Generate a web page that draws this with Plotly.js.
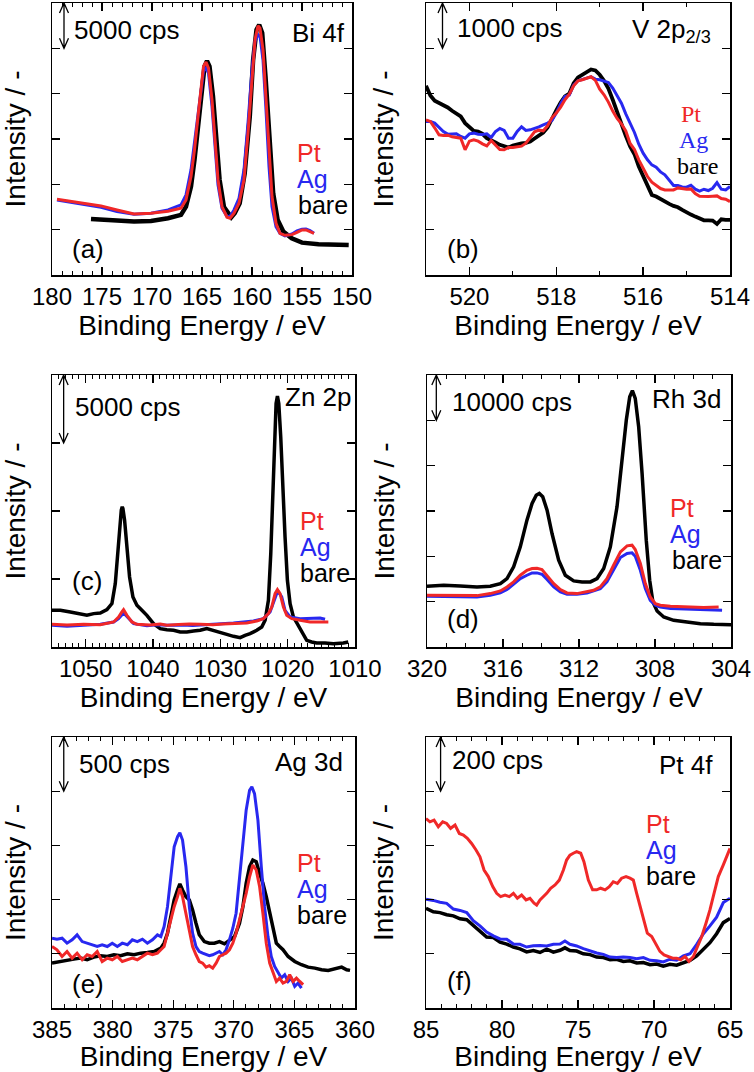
<!DOCTYPE html>
<html><head><meta charset="utf-8">
<script src="https://cdn.plot.ly/plotly-3.0.1.min.js"></script>
<style>html,body{margin:0;padding:0;background:#fff}#chart{width:754px;height:1072px}</style>
</head><body><div id="chart"></div>
<script>
// ---------- (a) Bi 4f ----------
const biE_bare = [176.1,175.1,173.5,171.8,170.1,168.4,167.1,166.6,166.1,165.75,165.4,165.1,164.75,164.5,164.25,163.9,163.6,163.24,162.8,162.23,162.07,161.73,161.23,160.73,160.22,159.89,159.55,159.28,158.98,158.65,158.28,157.88,157.44,156.87,156.03,155.0,153.35,150.33];
const bi_bare = [6180,6150,6000,5900,5950,6260,6630,7550,9750,12700,16400,20400,23000,23600,23000,19700,14900,10500,7500,6450,6370,6800,7900,11200,17500,23700,27050,27600,26700,21900,14900,9000,6100,4800,4050,3570,3390,3310];
const biE_metal = [179.5,178.5,177.5,176.8,175.1,173.5,172.5,171.8,170.1,169,168.4,167.1,166.6,166.1,165.75,165.4,165.08,164.85,164.6,164.35,164.0,163.7,163.4,163.0,162.5,162.2,161.8,161.3,160.8,160.4,160.0,159.7,159.4,159.2,158.9,158.6,158.3,158.0,157.6,157.2,156.7,156.0,155.5,155.0,154.6,154.2,153.8];
const bi_pt = [8356,8172,8061,7914,7620,7178,6884,6736,6810,6920,7030,7362,8282,10859,13804,17485,21166,23006,23485,22822,19325,14908,10491,7546,6368,6258,6810,7914,10491,15644,21902,25951,27497,27239,24847,19325,13436,8650,5706,4601,4380,4454,4712,4969,4969,4785,4601];
const bi_ag = [8282,8098,7914,7730,7473,6994,6810,6700,6810,7031,7178,7730,8834,11595,14540,17853,20798,22454,22822,22270,18589,14172,9939,7362,6442,6442,7178,8466,11595,16749,22638,25767,26503,26319,23742,18221,11963,7546,5337,4601,4307,4527,4859,5043,5080,4896,4601];

// ---------- (b) V 2p ----------
const vE = [521.0,520.9,520.8,520.7,520.6,520.5,520.4,520.3,520.2,520.1,520.0,519.9,519.8,519.7,519.6,519.5,519.4,519.3,519.2,519.1,519.0,518.9,518.8,518.7,518.6,518.5,518.4,518.3,518.2,518.1,518.0,517.9,517.8,517.7,517.6,517.5,517.4,517.3,517.2,517.1,517.0,516.9,516.8,516.7,516.6,516.5,516.4,516.3,516.2,516.1,516.0,515.9,515.8,515.7,515.6,515.5,515.4,515.3,515.2,515.1,515.0,514.9,514.8,514.7,514.6,514.5,514.4,514.3,514.2,514.1,514.0];
const v_bare = [4174,3961,3843,3799,3747,3696,3622,3548,3497,3350,3254,3180,3166,3114,3018,2960,2923,2871,2842,2812,2856,2886,2901,2915,2945,3011,3077,3144,3254,3423,3629,3806,3939,4005,4233,4358,4417,4491,4535,4513,4417,4285,4115,3865,3585,3313,3070,2834,2665,2393,2172,1951,1767,1730,1671,1634,1568,1524,1494,1436,1377,1333,1288,1237,1207,1207,1200,1126,1229,1215,1215];
const v_pt = [3423,3387,3247,3092,3077,3085,3048,3026,3018,2761,2952,2982,2952,2893,2849,2967,2864,2768,2761,2812,2812,2820,2842,2908,3026,3158,3195,3180,3291,3468,3571,3703,3865,3990,4174,4285,4307,4344,4373,4292,4101,3975,3814,3615,3453,3335,3180,2901,2768,2540,2356,2172,2047,1973,1907,1877,1877,1877,1921,1907,1892,1899,1796,1737,1730,1730,1737,1745,1686,1671,1620];
const v_ag = [3387,3387,3350,3261,3166,3107,3107,3114,3055,3018,3114,3129,3107,3099,3114,3033,3166,3232,3188,3018,3018,3166,3269,3188,3202,3232,3269,3313,3350,3409,3571,3777,3939,3968,4189,4285,4321,4344,4373,4321,4307,4277,4248,4123,3961,3791,3556,3350,3144,2886,2687,2540,2429,2378,2275,2209,2083,1973,1973,1944,1936,1980,1892,1848,1892,1863,1914,2039,1892,1877,1951];

// ---------- (c) Zn 2p ----------
const znE_bare = [1055.0,1053.76,1052.28,1050.80,1049.81,1048.82,1047.83,1046.84,1046.10,1045.60,1045.26,1044.96,1044.71,1044.57,1044.47,1044.22,1043.87,1043.48,1042.98,1042.39,1041.65,1040.91,1039.92,1038.93,1037.94,1036.95,1035.96,1034.97,1033.98,1032.99,1032.01,1031.02,1030.03,1029.04,1028.05,1027.06,1026.32,1025.58,1024.59,1023.85,1023.35,1022.86,1022.51,1022.21,1021.97,1021.72,1021.52,1021.32,1021.03,1020.73,1020.39,1020.04,1019.64,1019.15,1018.41,1017.67,1017.17,1016.43,1015.69,1014.45,1013.21,1011.73,1011.0];
const zn_bare = [2699,2699,2577,2454,2331,2454,2503,2748,3190,4663,6871,8834,10061,10307,10184,9325,7362,5153,3681,3068,2699,2331,1718,1350,1276,1227,1104,1104,1178,1227,1350,1227,1104,933,785,687,859,982,1227,1472,1963,3436,6871,11779,15460,17914,18454,17914,15460,11779,8098,4908,3190,2209,1595,859,491,368,294,294,245,294,368];
const znE_pt = [1055.0,1052.77,1050.30,1047.83,1045.85,1045.11,1044.62,1044.37,1043.87,1043.13,1042.39,1040.5,1038.9,1037.94,1036.2,1034.6,1032.99,1031.1,1029.6,1028.05,1026.07,1024.59,1023.60,1022.86,1022.36,1021.87,1021.52,1021.13,1020.63,1020.14,1019.40,1018.16,1016.68,1015.19,1013.96];
const zn_pt = [1669,1620,1669,1644,1841,2209,2577,2748,2331,1841,1669,1610,1690,1595,1650,1700,1669,1640,1700,1718,1767,1914,2086,2454,2945,3926,4221,3926,2945,2331,2086,1963,1841,1841,1841];
const znE_ag = [1055.0,1052.77,1050.30,1047.83,1045.85,1045.11,1044.37,1043.63,1042.88,1040.9,1039.4,1037.94,1035.7,1034.1,1032.99,1030.6,1028.05,1025.08,1023.60,1022.61,1022.12,1021.62,1021.37,1020.88,1020.39,1019.64,1018.16,1016.68,1015.19,1014.45];
const zn_ag = [1595,1521,1595,1669,1841,2086,2503,2086,1718,1570,1640,1595,1620,1580,1620,1660,1767,1914,2086,2577,3190,3926,4049,3681,2699,2209,2086,2086,2135,2037];

// ---------- (d) Rh 3d ----------
const rhE_bare = [320.0,319.12,318.25,317.37,316.67,316.14,315.79,315.44,315.09,314.74,314.47,314.25,314.09,313.91,313.68,313.42,313.07,312.72,312.28,311.84,311.40,311.05,310.70,310.35,310.0,309.74,309.51,309.33,309.19,309.04,308.86,308.68,308.46,308.28,308.11,307.89,307.54,307.02,306.32,305.61,304.91,304.0];
const rh_bare = [13399,13620,13472,13252,13399,13988,15092,17669,22086,27976,31657,33497,33865,33129,30184,25031,19141,15828,14577,14356,14356,15092,17301,22086,30920,41227,50062,55215,56540,54847,48589,38282,23558,14724,9939,7951,6626,5890,5522,5153,5006,4933];
const rhE_pt = [320.0,319.12,318.25,317.37,316.67,316.14,315.79,315.44,315.09,314.74,314.47,314.21,313.95,313.68,313.33,312.98,312.63,312.11,311.58,311.23,310.88,310.53,310.18,309.82,309.47,309.21,309.04,308.77,308.51,308.25,307.98,307.72,307.19,306.32,305.44,304.65];
const rh_pt = [11411,11337,11337,11337,11779,12368,13252,14356,15828,16933,17301,17374,17080,15828,13988,12663,11926,11779,12147,12515,13252,15092,18037,20982,22307,22454,21497,18405,13988,11043,9571,9203,8982,8834,8687,8834];
const rhE_ag = [320.0,319.12,318.25,317.37,316.67,316.14,315.79,315.44,315.09,314.74,314.47,314.21,313.95,313.68,313.33,312.98,312.63,312.11,311.58,311.23,310.88,310.53,310.18,309.82,309.47,309.21,309.04,308.77,308.51,308.25,307.98,307.72,307.19,306.32,305.44,304.47];
const rh_ag = [11190,11190,11190,11043,11411,11926,12663,13841,15092,15828,16344,16344,16049,14871,13252,12147,11632,11632,11926,12368,12884,14356,17080,19730,20614,20761,20025,16933,12884,10307,9203,8834,8466,8319,8245,8098];

// ---------- (e) Ag 3d ----------
const agE_bare = [385.0,384.31,383.76,383.20,382.65,382.10,381.55,380.99,380.44,379.89,379.34,378.78,378.23,377.68,377.13,376.57,376.02,375.75,375.47,375.19,374.92,374.64,374.45,374.23,373.95,373.67,373.40,373.12,372.85,372.43,372.02,371.60,371.19,370.77,370.36,369.94,369.53,369.25,368.98,368.70,368.43,368.15,367.87,367.60,367.32,367.04,366.77,366.49,366.22,365.94,365.52,364.97,364.42,363.87,363.31,362.76,362.21,361.66,361.10,360.69,360.41];
const ag_bare = [414,429,445,451,460,445,469,482,475,491,482,500,491,506,512,521,552,598,690,843,997,1089,1144,1089,1027,997,905,782,675,613,598,598,613,592,629,659,782,935,1150,1303,1365,1349,1242,1150,1027,874,736,598,567,537,475,429,399,377,368,353,347,359,377,353,347];
const agE_pt = [385.0,384.59,384.17,383.76,383.34,382.93,382.51,382.10,381.69,381.27,380.86,380.44,380.03,379.61,379.20,378.78,378.37,377.96,377.54,377.13,376.71,376.30,376.02,375.75,375.47,375.19,374.92,374.64,374.45,374.23,373.95,373.67,373.40,373.12,372.85,372.57,372.29,372.02,371.74,371.46,371.19,370.91,370.64,370.36,370.08,369.81,369.53,369.25,368.98,368.70,368.43,368.15,367.87,367.60,367.32,367.04,366.77,366.49,366.22,365.94,365.66,365.39,365.11,364.83,364.56,364.28];
const ag_pt = [567,537,475,521,460,506,445,491,475,521,429,460,445,475,429,445,460,445,475,506,491,506,537,567,690,813,935,1027,1104,1027,874,690,567,491,429,414,377,390,368,414,475,491,506,537,598,690,813,935,1058,1211,1319,1273,1119,874,598,414,322,245,276,230,245,307,245,276,245,215];
const agE_ag = [385.0,384.59,384.17,383.76,383.34,382.93,382.51,382.10,381.69,381.27,380.86,380.44,380.03,379.61,379.20,378.78,378.37,377.96,377.54,377.13,376.71,376.30,376.02,375.75,375.47,375.19,374.92,374.64,374.45,374.23,373.95,373.67,373.40,373.12,372.85,372.57,372.29,372.02,371.74,371.46,371.19,370.91,370.64,370.36,370.08,369.81,369.53,369.25,368.98,368.70,368.51,368.29,368.01,367.73,367.46,367.18,366.91,366.63,366.35,366.08,365.80,365.52,365.25,364.97,364.70,364.42];
const ag_ag = [644,635,644,598,629,675,613,598,583,567,583,567,598,567,598,583,629,613,635,598,629,675,659,751,935,1242,1487,1580,1616,1549,1303,935,690,567,521,506,491,482,491,506,521,491,537,629,736,874,1181,1549,1825,2009,2040,1978,1733,1303,935,659,475,383,322,276,307,245,276,199,230,184];

// ---------- (f) Pt 4f ----------
const ptE_pt = [85.0,84.74,84.47,84.19,83.90,83.64,83.38,83.09,82.81,82.54,82.28,82.0,81.71,81.45,81.18,80.90,80.61,80.35,80.09,79.80,79.52,79.25,78.99,78.71,78.42,78.16,77.89,77.72,77.50,77.28,77.06,76.80,76.51,76.23,75.96,75.75,75.53,75.31,75.09,74.82,74.61,74.32,74.04,73.77,73.51,73.22,72.94,72.68,72.41,72.13,71.84,71.58,71.36,71.14,70.92,70.70,70.44,70.15,69.87,69.61,69.34,69.06,68.77,68.51,68.25,67.96,67.70,67.41,67.15,66.86,66.58,66.32,66.05,65.77,65.44,65.22,65.0];
const pt_pt = [699,687,693,669,687,681,663,675,644,638,626,607,583,558,509,485,448,423,411,417,411,423,405,417,399,405,387,380,399,411,423,442,454,472,509,546,564,571,577,571,540,472,436,436,442,436,448,466,460,479,485,479,472,423,374,325,276,264,233,209,196,190,184,184,178,190,172,190,227,264,313,362,423,485,528,558,589];
const ptE_other = [85.0,84.52,84.08,83.64,83.20,82.76,82.32,81.89,81.45,81.01,80.57,80.13,79.69,79.25,78.82,78.38,77.94,77.50,77.06,76.62,76.18,75.86,75.53,75.09,74.65,74.21,73.77,73.33,72.89,72.46,72.02,71.58,71.14,70.70,70.26,69.82,69.39,68.95,68.51,68.07,67.63,67.19,66.75,66.32,65.88,65.44,65.0];
const pt_ag = [401,397,390,386,365,360,352,322,303,280,266,255,254,236,235,225,230,231,229,235,236,247,235,229,219,211,203,198,188,186,188,186,182,186,176,174,170,180,176,192,200,235,274,303,335,389,405];
const pt_bare = [368,355,352,344,340,329,326,305,280,262,260,243,236,225,218,207,212,205,217,206,213,222,212,210,200,197,188,186,178,180,172,174,166,168,160,162,154,161,158,167,176,192,219,241,274,315,330];

// ---------- labels ----------
const xTitle = 'Binding Energy / eV';
const yTitle = 'Intensity / -';
const seriesNames = ['bare','Ag','Pt'];
const panelLetters = ['(a)','(b)','(c)','(d)','(e)','(f)'];
const elementLabels = ['Bi 4f','V 2p<sub>2/3</sub>','Zn 2p','Rh 3d','Ag 3d','Pt 4f'];
const scaleLabels = ['5000 cps','1000 cps','5000 cps','10000 cps','500 cps','200 cps'];
const scaleValues = [5000,1000,5000,10000,500,200];

// ---------- layout helpers ----------
const W = 754, H = 1072;
const SANS = 'Liberation Sans, Arial, sans-serif';
const SERIF = 'Liberation Serif, Times New Roman, serif';
const RED = '#f02828', BLUE = '#2828f0', BLACK = '#000000';

const panels = [
  {box:[52,352,3,275],   xr:[180,150],   xd:5,  yr:[0,30000], E:[biE_bare,biE_metal,biE_metal], Y:[bi_bare,bi_ag,bi_pt], arrowX:178.8,
   scalePos:[72,30], elemPos:[347,33,'right'], letterPos:[70,249], legPos:[[296,205],[295,179],[295,153]], legFont:SANS, bw:4.5},
  {box:[426,730,3,275],  xr:[521,514],   xd:2,  yr:[0,6000],  E:[vE,vE,vE], Y:[v_bare,v_ag,v_pt], arrowX:520.62,
   scalePos:[455,28], elemPos:[630,30,'left'], letterPos:[445,249], legPos:[[675,166],[677,140],[679,114]], legFont:SERIF, bw:3.8},
  {box:[52,355,375,647], xr:[1055,1010], xd:10, yr:[0,20000], E:[znE_bare,znE_ag,znE_pt], Y:[zn_bare,zn_ag,zn_pt], arrowX:1053.27,
   scalePos:[73,407], elemPos:[283,397,'left'], letterPos:[70,581], legPos:[[298,573],[298,547],[298,521]], legFont:SANS, bw:3.5},
  {box:[427,731,375,647],xr:[320,304],   xd:4,  yr:[0,60000], E:[rhE_bare,rhE_ag,rhE_pt], Y:[rh_bare,rh_ag,rh_pt], arrowX:319.51,
   scalePos:[450,402], elemPos:[650,399,'left'], letterPos:[445,619], legPos:[[670,560],[668,534],[668,508]], legFont:SANS, bw:3.5},
  {box:[52,355,737,1008],xr:[385,360],   xd:5,  yr:[0,2500],  E:[agE_bare,agE_ag,agE_pt], Y:[ag_bare,ag_ag,ag_pt], arrowX:384.03,
   scalePos:[77,764], elemPos:[273,762,'left'], letterPos:[70,984], legPos:[[295,915],[295,889],[295,863]], legFont:SANS, bw:3.5},
  {box:[426,730,737,1008],xr:[85,65],    xd:5,  yr:[0,1000],  E:[ptE_other,ptE_other,ptE_pt], Y:[pt_bare,pt_ag,pt_pt], arrowX:84.04,
   scalePos:[450,760], elemPos:[657,765,'left'], letterPos:[445,981], legPos:[[644,876],[644,850],[644,824]], legFont:SANS, bw:3.5}
];

const colors = [BLACK, BLUE, RED];
const data = [];
const layout = {
  width: W, height: H, margin:{l:0,r:0,t:0,b:0},
  paper_bgcolor:'#fff', plot_bgcolor:'#fff', showlegend:false,
  font:{family:SANS, color:'#000'}, annotations:[], shapes:[]
};

function px2paper(x, y){ return [x / W, 1 - y / H]; }
function txt(x, y, text, color, size, family, anchor){
  const p = px2paper(x, y);
  return {xref:'paper', yref:'paper', x:p[0], y:p[1], xanchor:anchor||'left', yanchor:'middle',
          text:text, showarrow:false, font:{size:size, color:color, family:family}};
}

panels.forEach((p, i) => {
  const n = i === 0 ? '' : String(i + 1);
  const xk = 'xaxis' + n, yk = 'yaxis' + n;
  const xid = 'x' + n, yid = 'y' + n;
  const b = p.box;
  layout[xk] = {
    domain:[b[0]/W, b[1]/W], range:p.xr, autorange:false, anchor:yid,
    showline:true, linecolor:'#000', linewidth:1.5, mirror:'ticks',
    ticks:'inside', ticklen:8, tickwidth:1.3, tickcolor:'#000', tick0:0, dtick:p.xd,
    minor:{dtick:1, ticks:'inside', ticklen:4, tickwidth:1, tickcolor:'#000'},
    tickfont:{size:24, family:SANS, color:'#000'},
    showgrid:false, zeroline:false,
    title:{text:xTitle, font:{size:28, family:SANS, color:'#000'}, standoff:4}
  };
  layout[yk] = {
    domain:[1 - b[3]/H, 1 - b[2]/H], range:p.yr, autorange:false, anchor:xid,
    showline:true, linecolor:'#000', linewidth:1.5, mirror:'ticks',
    ticks:'inside', ticklen:8, tickwidth:1.3, tickcolor:'#000', tick0:0, dtick:scaleValues[i],
    showticklabels:false, showgrid:false, zeroline:false,
    title:{text:yTitle, font:{size:28, family:SANS, color:'#000'}, standoff:22}
  };
  for (let s = 0; s < 3; s++) {
    data.push({type:'scatter', mode:'lines', x:p.E[s], y:p.Y[s], xaxis:xid, yaxis:yid,
      name:seriesNames[s], line:{color:colors[s], width: s === 0 ? p.bw : 3}, hoverinfo:'skip'});
  }
  // scale arrow (double-headed, open heads) drawn as a shape path in data coords
  const top = p.yr[1], bot = top - scaleValues[i];
  const pxPerX = (b[1] - b[0]) / Math.abs(p.xr[0] - p.xr[1]);
  const pxPerY = (b[3] - b[2]) / (p.yr[1] - p.yr[0]);
  const dx = 4.5 / pxPerX, dy = 10 / pxPerY;
  const x = p.arrowX;
  const path = `M${x},${top} L${x},${bot} ` +
               `M${x + dx},${top - dy} L${x},${top} L${x - dx},${top - dy} ` +
               `M${x + dx},${bot + dy} L${x},${bot} L${x - dx},${bot + dy}`;
  layout.shapes.push({type:'path', xref:xid, yref:yid, path:path, line:{color:'#000', width:1.3}});
  layout.annotations.push(txt(p.scalePos[0], p.scalePos[1], scaleLabels[i], '#000', 26, SANS, 'left'));
  layout.annotations.push(txt(p.elemPos[0], p.elemPos[1], elementLabels[i], '#000', 26, SANS, p.elemPos[2]));
  layout.annotations.push(txt(p.letterPos[0], p.letterPos[1], panelLetters[i], '#000', 26, SANS, 'left'));
  for (let s = 0; s < 3; s++) {
    layout.annotations.push(txt(p.legPos[s][0], p.legPos[s][1], seriesNames[s], colors[s], p.legFont === SERIF ? 24 : 25, p.legFont, 'left'));
  }
});

Plotly.newPlot('chart', data, layout, {staticPlot:true, displayModeBar:false});
</script>
</body></html>
